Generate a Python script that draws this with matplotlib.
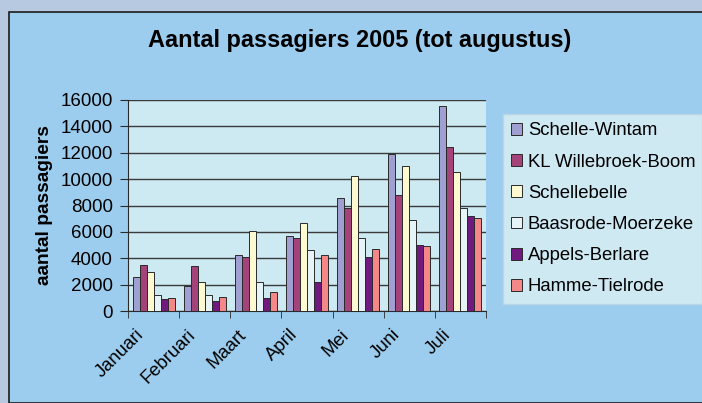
import numpy as np
import matplotlib
matplotlib.use("Agg")
import matplotlib.pyplot as plt
import matplotlib.transforms as mtransforms
from matplotlib.patches import Rectangle

plt.rcParams['font.family'] = ['Liberation Sans', 'DejaVu Sans']

months = ['Januari', 'Februari', 'Maart', 'April', 'Mei', 'Juni', 'Juli']
stations = ['Schelle-Wintam', 'KL Willebroek-Boom', 'Schellebelle',
            'Baasrode-Moerzeke', 'Appels-Berlare', 'Hamme-Tielrode']

schelle_wintam = [2550, 1860, 4210, 5690, 8580, 11920, 15570]
kl_willebroek = [3520, 3420, 4080, 5510, 7840, 8780, 12430]
schellebelle = [2960, 2200, 6100, 6640, 10210, 11000, 10570]
baasrode = [1200, 1200, 2200, 4650, 5570, 6870, 7840]
appels = [890, 770, 970, 2200, 4130, 5030, 7200]
hamme = [970, 1070, 1430, 4210, 4720, 4900, 7050]

series = [schelle_wintam, kl_willebroek, schellebelle, baasrode, appels, hamme]
colors = ['#9f9fd2', '#a3437a', '#fdfad2', '#e6f3f7', '#701a80', '#f48888']

fig = plt.figure(figsize=(7.02, 4.03), dpi=100)
fig.patch.set_facecolor('#b6c9e1')

# inner panel with border
panel = Rectangle((9 / 702, 0), 1.0, 1 - 12 / 403, transform=fig.transFigure,
                  facecolor='#9dcdee', edgecolor='#1a1a1a', linewidth=1.2, zorder=-5)
fig.patches.append(panel)

ax = fig.add_axes([128 / 702, 1 - 311 / 403, (486 - 128) / 702, (311 - 100) / 403])
ax.set_zorder(2)
ax.set_facecolor('#cde9f2')

x = np.arange(len(months))
w = 0.137
for i, (vals, c) in enumerate(zip(series, colors)):
    ax.bar(x + (i - 2.5) * w, vals, width=w, color=c, edgecolor='#2a2a2a',
           linewidth=0.7, label=stations[i], zorder=3)

ax.set_xlim(-0.5, len(months) - 0.5)
ax.set_ylim(0, 16000)
ax.set_yticks(np.arange(0, 16001, 2000))
ax.yaxis.grid(True, color='#3a3a3a', linewidth=1.0, zorder=1)
ax.set_axisbelow(True)

ax.set_xticks(x)
ax.set_xticklabels(months, rotation=45, ha='right', va='top',
                   rotation_mode='anchor', fontsize=13.3)
ax.tick_params(axis='x', length=0, pad=11)
shift = mtransforms.ScaledTranslation(-18 / 100, 0, fig.dpi_scale_trans)
for lbl in ax.get_xticklabels():
    lbl.set_transform(lbl.get_transform() + shift)
ax.set_xticks(np.arange(-0.5, len(months)), minor=True)
ax.tick_params(axis='x', which='minor', length=5, color='#2a2a2a')
ax.tick_params(axis='y', length=6, color='#2a2a2a', labelsize=13.5, pad=5)

for s in ['top', 'right']:
    ax.spines[s].set_visible(False)
for s in ['left', 'bottom']:
    ax.spines[s].set_color('#2a2a2a')

ax.set_ylabel('aantal passagiers', fontsize=13.8, fontweight='bold', labelpad=5)

fig.text(360 / 702, 1 - 40 / 403, 'Aantal passagiers 2005 (tot augustus)',
         ha='center', va='center', fontsize=16.9, fontweight='bold')

leg = ax.legend(loc='upper left', mode='expand',
                bbox_to_anchor=(503 / 702, 0, 1 - 503 / 702, 1 - 114 / 403),
                bbox_transform=fig.transFigure, fontsize=13.3, frameon=True,
                fancybox=False, shadow=False, handlelength=0.6, handleheight=0.6,
                handletextpad=0.3, labelspacing=0.77, borderpad=0.45,
                borderaxespad=0)
leg.get_frame().set_facecolor('#cfe9f3')
leg.get_frame().set_edgecolor('#b8d6e6')
leg.get_frame().set_alpha(1)

fig.savefig('out.png', dpi=100, facecolor=fig.get_facecolor())
